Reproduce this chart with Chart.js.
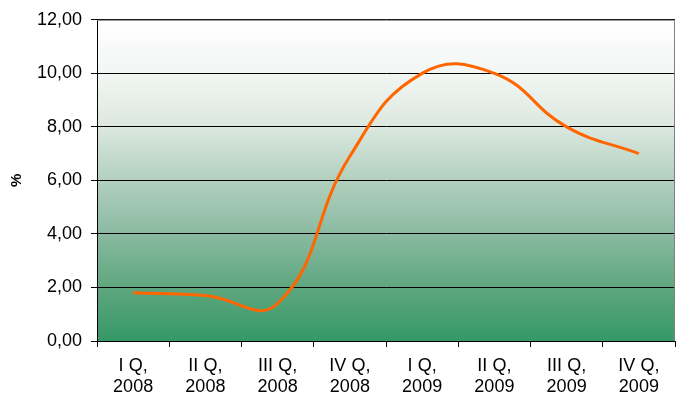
<!DOCTYPE html>
<html>
<head>
<meta charset="utf-8">
<script src="https://cdn.jsdelivr.net/npm/chart.js@4/dist/chart.umd.min.js"></script>
<style>
  html, body { margin: 0; padding: 0; background: #ffffff; }
  #wrap { width: 678px; height: 401px; }
</style>
</head>
<body>
<div id="wrap"><canvas id="c" width="678" height="401"></canvas></div>
<script>
const categories = [
  ['I Q,', '2008'], ['II Q,', '2008'], ['III Q,', '2008'], ['IV Q,', '2008'],
  ['I Q,', '2009'], ['II Q,', '2009'], ['III Q,', '2009'], ['IV Q,', '2009']
];
const values = [1.8, 1.7, 1.4, 6.9, 10.0, 10.0, 8.0, 7.0];
const yMin = 0, yMax = 12, yStep = 2;
const yTitle = '%';

const FONT = "'Liberation Sans', Arial, sans-serif";

const plotBg = {
  id: 'plotBg',
  beforeDraw(chart) {
    const { ctx, chartArea: a } = chart;
    const g = ctx.createLinearGradient(0, a.top, 0, a.bottom);
    g.addColorStop(0, '#ffffff');
    g.addColorStop(0.17, '#f2f6f3');
    g.addColorStop(0.33, '#dce8e0');
    g.addColorStop(0.5, '#b2d0be');
    g.addColorStop(0.67, '#89b9a0');
    g.addColorStop(0.83, '#5fa77f');
    g.addColorStop(1, '#359867');
    ctx.save();
    ctx.fillStyle = g;
    ctx.fillRect(a.left, a.top, a.right - a.left, a.bottom - a.top);
    ctx.restore();
  },
  afterDraw(chart) {
    const { ctx, chartArea: a } = chart;
    ctx.save();
    ctx.strokeStyle = '#808080';
    ctx.lineWidth = 1;
    ctx.beginPath();
    ctx.moveTo(a.left, a.top + 0.5);
    ctx.lineTo(a.right - 0.5, a.top + 0.5);
    ctx.lineTo(a.right - 0.5, a.bottom);
    ctx.stroke();
    ctx.restore();
  }
};

new Chart(document.getElementById('c'), {
  type: 'line',
  data: {
    labels: categories,
    datasets: [{
      data: values,
      borderColor: '#ff6600',
      borderWidth: 3,
      pointRadius: 0,
      tension: 0.45,
      fill: false
    }]
  },
  options: {
    responsive: false,
    animation: false,
    devicePixelRatio: 1,
    layout: { padding: { left: 0, right: 3, top: 17, bottom: 0 } },
    plugins: { legend: { display: false }, tooltip: { enabled: false } },
    scales: {
      x: {
        type: 'category',
        offset: true,
        afterFit(s) { s.height = 60; },
        grid: { offset: true, drawOnChartArea: false, color: '#000000', tickLength: 6, tickColor: '#000000' },
        border: { display: true, color: '#000000', width: 1 },
        ticks: { color: '#000000', font: { family: FONT, size: 18, lineHeight: 1.2 }, padding: 8, maxRotation: 0, autoSkip: false }
      },
      y: {
        min: yMin, max: yMax,
        afterFit(s) { s.width = 97; },
        grid: { color: '#000000', lineWidth: 1, tickLength: 6, tickColor: '#000000' },
        border: { display: true, color: '#000000', width: 1 },
        ticks: {
          stepSize: yStep,
          color: '#000000',
          padding: 9,
          font: { family: FONT, size: 18 },
          callback: v => v.toFixed(2).replace('.', ',')
        },
        title: { display: true, text: yTitle, color: '#000000', font: { family: FONT, size: 15, weight: 'bold', lineHeight: 1.2 }, padding: { top: 8, bottom: 0 } }
      }
    }
  },
  plugins: [plotBg]
});
</script>
</body>
</html>
